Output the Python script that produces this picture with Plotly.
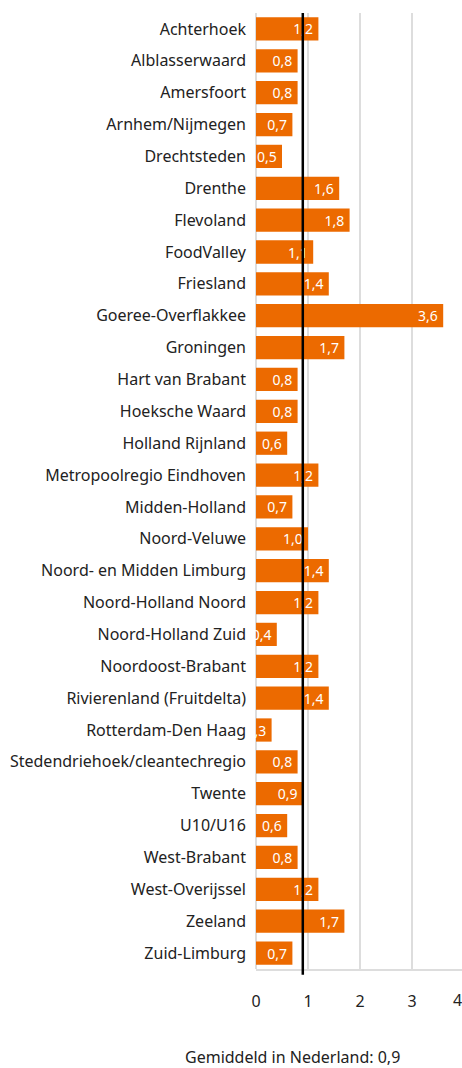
import plotly.graph_objects as go

regions = ["Achterhoek", "Alblasserwaard", "Amersfoort", "Arnhem/Nijmegen", "Drechtsteden",
           "Drenthe", "Flevoland", "FoodValley", "Friesland", "Goeree-Overflakkee",
           "Groningen", "Hart van Brabant", "Hoeksche Waard", "Holland Rijnland",
           "Metropoolregio Eindhoven", "Midden-Holland", "Noord-Veluwe",
           "Noord- en Midden Limburg", "Noord-Holland Noord", "Noord-Holland Zuid",
           "Noordoost-Brabant", "Rivierenland (Fruitdelta)", "Rotterdam-Den Haag",
           "Stedendriehoek/cleantechregio", "Twente", "U10/U16", "West-Brabant",
           "West-Overijssel", "Zeeland", "Zuid-Limburg"]
values = [1.2, 0.8, 0.8, 0.7, 0.5, 1.6, 1.8, 1.1, 1.4, 3.6, 1.7, 0.8, 0.8, 0.6, 1.2,
          0.7, 1.0, 1.4, 1.2, 0.4, 1.2, 1.4, 0.3, 0.8, 0.9, 0.6, 0.8, 1.2, 1.7, 0.7]
average = 0.9
x_ticks = [0, 1, 2, 3]

labels = [f"{v:.1f}".replace(".", ",") + "\u2009" for v in values]
font = "Noto Sans, Open Sans, sans-serif"

fig = go.Figure(go.Bar(
    y=regions, x=values, orientation="h",
    marker=dict(color="#ec6a00", line=dict(width=0)),
    text=labels, textposition="inside", insidetextanchor="end", textangle=0,
    constraintext="none", cliponaxis=False,
    insidetextfont=dict(color="white", size=14, family=font),
    hoverinfo="skip",
))

fig.add_shape(type="line", xref="x", yref="paper", x0=average, x1=average,
              y0=-0.006, y1=1.0, line=dict(color="black", width=2.5))

fig.add_annotation(xref="paper", yref="paper", x=(464 - 256) / 206, y=0,
                   yshift=-18, yanchor="top", text="4", showarrow=False,
                   font=dict(size=16, color="#222", family=font))
fig.add_annotation(xref="paper", yref="paper", x=(292 - 256) / 206, y=0,
                   yshift=-(1057 - 969), yanchor="middle", xanchor="center",
                   text=f"Gemiddeld in Nederland: {str(average).replace('.', ',')}",
                   showarrow=False, font=dict(size=16, color="#222", family=font))

fig.update_layout(
    width=462, height=1068,
    margin=dict(l=256, r=0, t=13, b=99),
    plot_bgcolor="white", paper_bgcolor="white",
    bargap=0.27, showlegend=False,
    font=dict(family=font, color="#222"),
    xaxis=dict(range=[0, 206 / 52], tickvals=x_ticks, ticktext=[str(t) for t in x_ticks],
               showgrid=True, gridcolor="#dddddd", gridwidth=1.5,
               zeroline=True, zerolinecolor="#dddddd", zerolinewidth=1.5,
               showline=True, linecolor="#dddddd", linewidth=1.5,
               ticks="", ticklabelstandoff=17, tickfont=dict(size=16, color="#222"),
               fixedrange=True),
    yaxis=dict(categoryorder="array", categoryarray=regions, autorange="reversed",
               showgrid=False, ticks="", ticklabelstandoff=9,
               tickfont=dict(size=16, color="#222"), fixedrange=True),
)

fig.write_html("out.html", config={"displayModeBar": False},
               post_script="document.body.style.margin='0';document.body.style.overflow='hidden';")
